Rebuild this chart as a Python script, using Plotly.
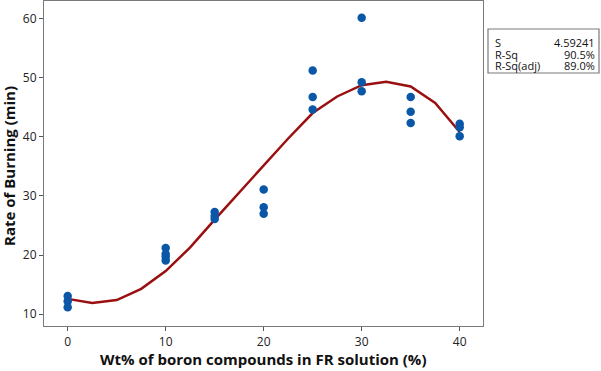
import plotly.graph_objects as go

# Observed data points
obs_x = [0, 0, 0, 10, 10, 10, 10, 15, 15, 15, 20, 20, 20, 25, 25, 25, 30, 30, 30, 35, 35, 35, 40, 40, 40]
obs_y = [13.1, 12.2, 11.2, 21.2, 20.2, 19.7, 19.1, 27.3, 26.6, 26.1, 31.1, 28.1, 27.0,
         51.2, 46.7, 44.6, 60.1, 49.2, 47.7, 46.7, 44.2, 42.3, 42.2, 41.6, 40.1]

# Fitted curve
fit_x = [0, 2.5, 5, 7.5, 10, 12.5, 15, 17.5, 20, 22.5, 25, 27.5, 30, 32.5, 35, 37.5, 40]
fit_y = [12.6, 11.9, 12.4, 14.3, 17.3, 21.3, 26.0, 30.6, 35.1, 39.7, 44.0, 46.8, 48.7, 49.3, 48.5, 45.7, 40.8]

stat_labels = ["S", "R-Sq", "R-Sq(adj)"]
stat_values = ["4.59241", "90.5%", "89.0%"]

x_ticks = [0, 10, 20, 30, 40]
y_ticks = [10, 20, 30, 40, 50, 60]

FONT = "Open Sans, Noto Sans, sans-serif"

fig = go.Figure()
fig.add_trace(go.Scatter(x=fit_x, y=fit_y, mode="lines",
                         line=dict(color="#9a0f0f", width=2.5), hoverinfo="skip"))
fig.add_trace(go.Scatter(x=obs_x, y=obs_y, mode="markers",
                         marker=dict(color="#0a57a8", size=8.5)))

axis_common = dict(showline=True, linecolor="#7a7a7a", linewidth=1.2, mirror=True,
                   showgrid=False, zeroline=False, ticks="outside", ticklen=4,
                   tickcolor="#555", automargin=False,
                   tickfont=dict(size=12, color="#222", family=FONT))

fig.update_xaxes(range=[-2.42, 42.38], tickvals=x_ticks, **axis_common)
fig.update_yaxes(range=[8.02, 62.93], tickvals=y_ticks, **axis_common)

PL, PR, PT, PB = 44, 483, 1, 326
PW, PH = PR - PL, PB - PT

def px(xp):
    return (xp - PL) / PW

def py(yp):
    return (PB - yp) / PH

# Axis titles
fig.add_annotation(xref="paper", yref="paper", x=px(263), y=py(359),
                   text="<b>Wt% of boron compounds in FR solution (%)</b>", showarrow=False,
                   xanchor="center", yanchor="middle",
                   font=dict(size=15, color="#111", family=FONT))
fig.add_annotation(xref="paper", yref="paper", x=px(9), y=py(166),
                   text="<b>Rate of Burning (min)</b>", showarrow=False, textangle=-90,
                   xanchor="center", yanchor="middle",
                   font=dict(size=15, color="#111", family=FONT))

# Stats box
fig.add_shape(type="rect", xref="paper", yref="paper",
              x0=px(488), x1=px(599), y0=py(73), y1=py(29),
              line=dict(color="#7a7a7a", width=1.2), fillcolor="white")
row_y = [42.5, 54, 65.5]
for lab, val, ry in zip(stat_labels, stat_values, row_y):
    fig.add_annotation(xref="paper", yref="paper", x=px(494), y=py(ry),
                       text=lab, showarrow=False, xanchor="left", yanchor="middle",
                       borderpad=0,
                       font=dict(size=11, color="#111", family=FONT))
    fig.add_annotation(xref="paper", yref="paper", x=px(596), y=py(ry),
                       text=val, showarrow=False, xanchor="right", yanchor="middle",
                       borderpad=0,
                       font=dict(size=11, color="#111", family=FONT))

fig.update_layout(width=601, height=371, margin=dict(l=PL, r=601 - PR, t=PT, b=371 - PB),
                  plot_bgcolor="white", paper_bgcolor="white", showlegend=False)

fig.write_html("out.html", config={"displayModeBar": False},
               post_script="document.body.style.margin='0';document.body.style.overflow='hidden';")
